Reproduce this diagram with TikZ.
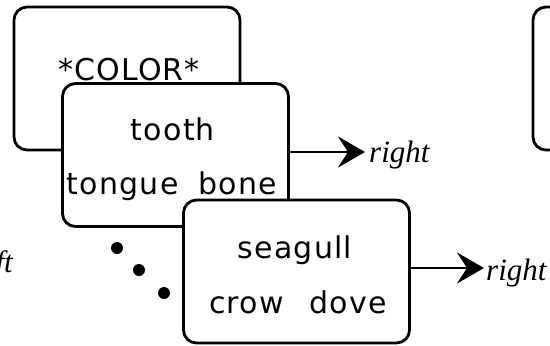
\documentclass[tikz,border=0pt]{standalone}
\usepackage{fontspec}
\setmainfont{Liberation Serif}
\newfontfamily\cardfont[LetterSpace=4]{DejaVu Sans}
\usetikzlibrary{arrows.meta}

\begin{document}
\begin{tikzpicture}[x=1pt,y=-1pt,
  card/.style={draw,line width=2.8pt,rounded corners=13pt,fill=white,minimum width=226pt,minimum height=143pt,inner sep=0pt},
  word/.style={anchor=base,inner sep=0pt,font=\cardfont\fontsize{30}{30}\selectfont},
  resp/.style={inner sep=0pt,font=\itshape\fontsize{31}{31}\selectfont},
  flow/.style={line width=2.8pt,-{Stealth[length=27pt,width=31pt,inset=10pt]}}]
\useasboundingbox (0,0) rectangle (550,346);
\clip (0,0) rectangle (550,346);
% stacked cards
\node[card] (color) at (127,78.5) {};
\node[card] (tooth) at (175.5,155) {};
\node[card] (seagull) at (296.5,271.5) {};
\node[card] (next) at (646,78.5) {};
\node[word] (w1) at (129,80) {*COLOR*};
\node[word] (w2) at (173,140) {tooth};
\node[word] (w3) at (172,194) {tongue\hspace{20pt}bone};
\node[word] (w4) at (295,258) {seagull};
\node[word] (w5) at (298,313) {crow\hspace{26pt}dove};
% dots
\foreach \dx/\dy in {117/248,139/270,164/293} {\fill (\dx,\dy) circle (6pt);}
% responses
\node[resp,anchor=base west] (r1) at (369,162) {right};
\node[resp,anchor=base west] (r2) at (486,280) {right};
\node[resp,anchor=base east] (r0) at (13,272) {left};
\draw[flow] ([yshift=3pt]tooth.east) -- ([yshift=3pt,xshift=-4pt]tooth.east -| r1.west);
\draw[flow] ([yshift=3.5pt]seagull.east) -- ([yshift=3.5pt,xshift=-2pt]seagull.east -| r2.west);
\end{tikzpicture}
\end{document}
